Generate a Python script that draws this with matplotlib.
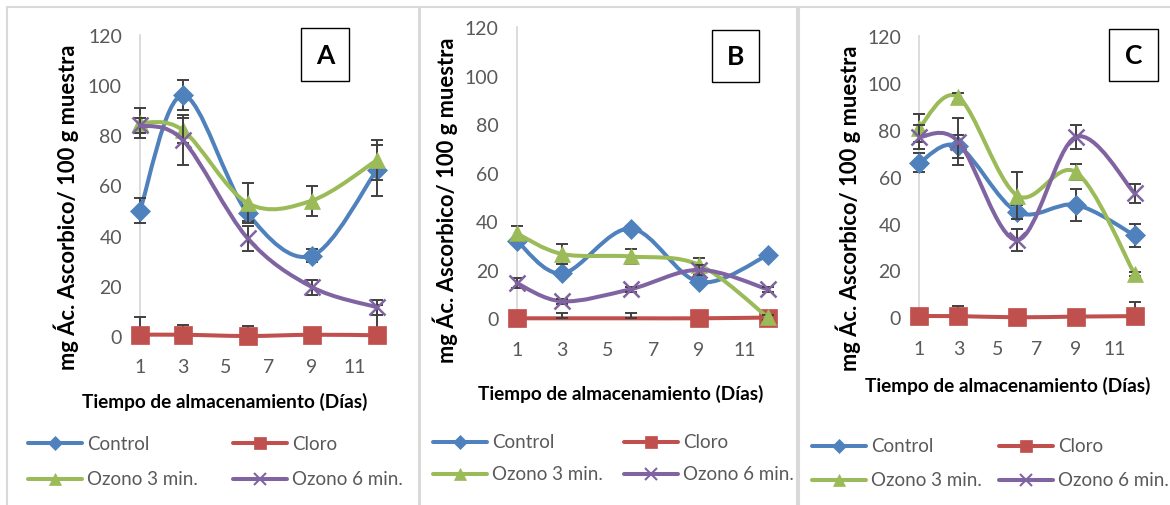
import numpy as np
import matplotlib
matplotlib.use("Agg")
import matplotlib.pyplot as plt
from matplotlib.path import Path
from matplotlib.patches import PathPatch, Rectangle
from matplotlib.lines import Line2D

plt.rcParams['font.family'] = ['Lato', 'DejaVu Sans']

# ---------------- data ----------------
days = [1, 3, 6, 9, 12]
series_names = ["Control", "Cloro", "Ozono 3 min.", "Ozono 6 min."]

A_control = [50, 96, 49, 32, 66]
A_cloro = [0.5, 0.5, 0, 0.5, 0.3]
A_oz3 = [85, 82, 53, 54, 70]
A_oz6 = [84, 78, 39, 19.5, 11.5]
A_control_err = [5, 6, 3, 2.5, 10]
A_cloro_err = [7, 4, 4, 1, 12]
A_oz3_err = [6, 5, 8, 6, 8]
A_oz6_err = [3, 10, 5, 3, 3]

B_control = [32, 18.5, 37, 15, 26]
B_cloro = [0, 0, 0, 0, 0.3]
B_oz3 = [35, 26.5, 25.5, 22, 0.5]
B_oz6 = [14.5, 7, 12, 20, 12]
B_control_err = [1, 1, 1, 1, 1]
B_cloro_err = [0, 2, 2, 0, 0]
B_oz3_err = [3, 4, 3, 3, 1]
B_oz6_err = [2, 1, 1, 2, 1]

C_control = [66, 73, 45, 48, 35]
C_cloro = [0.5, 0.5, 0, 0.3, 0.5]
C_oz3 = [81, 94, 52, 62, 18.5]
C_oz6 = [77, 75, 33, 77, 53]
C_control_err = [4, 5, 3, 7, 5]
C_cloro_err = [1, 4.5, 1, 1, 6]
C_oz3_err = [6, 2, 10, 3.5, 1]
C_oz6_err = [5, 10, 4.5, 5, 4]

y_ticks = [0, 20, 40, 60, 80, 100, 120]
x_ticks = [1, 3, 5, 7, 9, 11]
panel_letters = ["A", "B", "C"]
ylabel_text = "mg Ác. Ascorbico/ 100 g muestra"
xlabel_text = "Tiempo de almacenamiento (Días)"

# ---------------- styles ----------------
colors = ["#4F81BD", "#C0504D", "#9BBB59", "#8064A2"]
markers = ["D", "s", "^", "x"]
msizes = [10, 13, 11.5, 11]
W, H = 1170, 506
fig = plt.figure(figsize=(W / 100, H / 100), dpi=100)

def px(x, y):
    return x / W, 1 - y / H

def smooth_path(x, y):
    pts = np.column_stack([x, y]).astype(float)
    n = len(pts)
    verts = [pts[0]]
    codes = [Path.MOVETO]
    for i in range(n - 1):
        p0 = pts[i - 1] if i > 0 else pts[i]
        p1 = pts[i]
        p2 = pts[i + 1]
        p3 = pts[i + 2] if i + 2 < n else pts[i + 1]
        c1 = p1 + (p2 - p0) / 6.0
        c2 = p2 - (p3 - p1) / 6.0
        verts += [c1, c2, p2]
        codes += [Path.CURVE4] * 3
    return Path(verts, codes)

panels = [
    dict(vals=[A_control, A_cloro, A_oz3, A_oz6],
         errs=[A_control_err, A_cloro_err, A_oz3_err, A_oz6_err],
         ax=(140, 36, 376.5, 337), box=(301, 29, 349, 82),
         ylab=(66, 207), xlab=(225, 402),
         leg=dict(x0=28, xtext=87, x1col=233, y1=444, y2=480),
         mark_cloro=None),
    dict(vals=[B_control, B_cloro, B_oz3, B_oz6],
         errs=[B_control_err, B_cloro_err, B_oz3_err, B_oz6_err],
         ax=(516.7, 28.3, 767.5, 319.3), box=(712, 31, 759, 83),
         ylab=(445, 200), xlab=(621, 394),
         leg=dict(x0=433, xtext=492, x1col=624, y1=443, y2=475),
         mark_cloro=[0, 3, 4]),
    dict(vals=[C_control, C_cloro, C_oz3, C_oz6],
         errs=[C_control_err, C_cloro_err, C_oz3_err, C_oz6_err],
         ax=(919.3, 37.3, 1134.6, 318.3), box=(1109, 30, 1158, 82),
         ylab=(848, 208), xlab=(1008, 386),
         leg=dict(x0=812, xtext=871, x1col=999, y1=447, y2=481),
         mark_cloro=None),
]

# panel borders
border_col = "#D9D9D9"
for (x0, y0, x1, y1) in [(7, 8, 419, 520), (420, 8, 797, 520), (799, 8, 1190, 520)]:
    fig.add_artist(Rectangle(px(x0, y1), (x1 - x0) / W, (y1 - y0) / H,
                             transform=fig.transFigure, fill=False,
                             edgecolor=border_col, lw=1.5))

tick_col = "#595959"
for pi, p in enumerate(panels):
    l, t, r, b = p["ax"]
    ax = fig.add_axes([l / W, 1 - b / H, (r - l) / W, (b - t) / H])
    ax.set_xlim(1, 12)
    ax.set_ylim(0, 120)
    for s in ["top", "right", "bottom"]:
        ax.spines[s].set_visible(False)
    ax.spines["left"].set_color("#D9D9D9")
    ax.spines["left"].set_linewidth(1.3)
    ax.set_yticks(y_ticks)
    ax.set_xticks(x_ticks)
    ax.tick_params(length=0, labelsize=14, labelcolor=tick_col)
    ax.tick_params(axis="y", pad=13)
    ax.tick_params(axis="x", pad=16)
    ax.patch.set_alpha(0)

    for si in range(4):
        yv = p["vals"][si]
        err = np.asarray(p["errs"][si], dtype=float)
        if si == 1:
            yerr = [np.zeros_like(err), err]
        else:
            yerr = err
        z = 3 + si
        patch = PathPatch(smooth_path(days, yv), fill=False, edgecolor=colors[si],
                          lw=2.9, zorder=z, clip_on=False, capstyle="round")
        ax.add_patch(patch)
        ax.errorbar(days, yv, yerr=yerr, fmt="none", ecolor="#404040",
                    elinewidth=1.4, capsize=4, capthick=1.4, zorder=z + 0.1,
                    clip_on=False)
        me = p["mark_cloro"] if (si == 1 and p["mark_cloro"] is not None) else None
        ax.plot(days, yv, linestyle="none", marker=markers[si], ms=msizes[si],
                color=colors[si], mew=1.8 if markers[si] == "x" else 0.5,
                markevery=me, zorder=z + 0.2, clip_on=False)

    # letter box
    bx0, by0, bx1, by1 = p["box"]
    fig.add_artist(Rectangle(px(bx0, by1), (bx1 - bx0) / W, (by1 - by0) / H,
                             transform=fig.transFigure, facecolor="white",
                             edgecolor="black", lw=1.0))
    fig.text(*px((bx0 + bx1) / 2, (by0 + by1) / 2), panel_letters[pi],
             ha="center", va="center", fontsize=19, fontweight="bold")

    # axis labels
    fig.text(*px(*p["ylab"]), ylabel_text, rotation=90, ha="center", va="center",
             fontsize=15.8, fontweight="bold")
    fig.text(*px(*p["xlab"]), xlabel_text, ha="center", va="center",
             fontsize=13.7, fontweight="bold")

    # legend
    lg = p["leg"]
    pos = [(lg["x0"], lg["y1"]), (lg["x1col"], lg["y1"]),
           (lg["x0"], lg["y2"]), (lg["x1col"], lg["y2"])]
    lms = [7, 9, 8, 8]
    for si, (lx, ly) in enumerate(pos):
        xa, ya = px(lx, ly)
        xb, _ = px(lx + 54, ly)
        fig.add_artist(Line2D([xa, xb], [ya, ya], transform=fig.transFigure,
                              color=colors[si], lw=2.9, solid_capstyle="round"))
        fig.add_artist(Line2D([(xa + xb) / 2], [ya], transform=fig.transFigure,
                              color=colors[si], marker=markers[si], ms=lms[si],
                              mew=1.5 if markers[si] == "x" else 0.5, linestyle="none"))
        fig.text(*px(lx + 59, ly), series_names[si], ha="left", va="center",
                 fontsize=13.5, color=tick_col)

fig.savefig("out.png", dpi=100)
